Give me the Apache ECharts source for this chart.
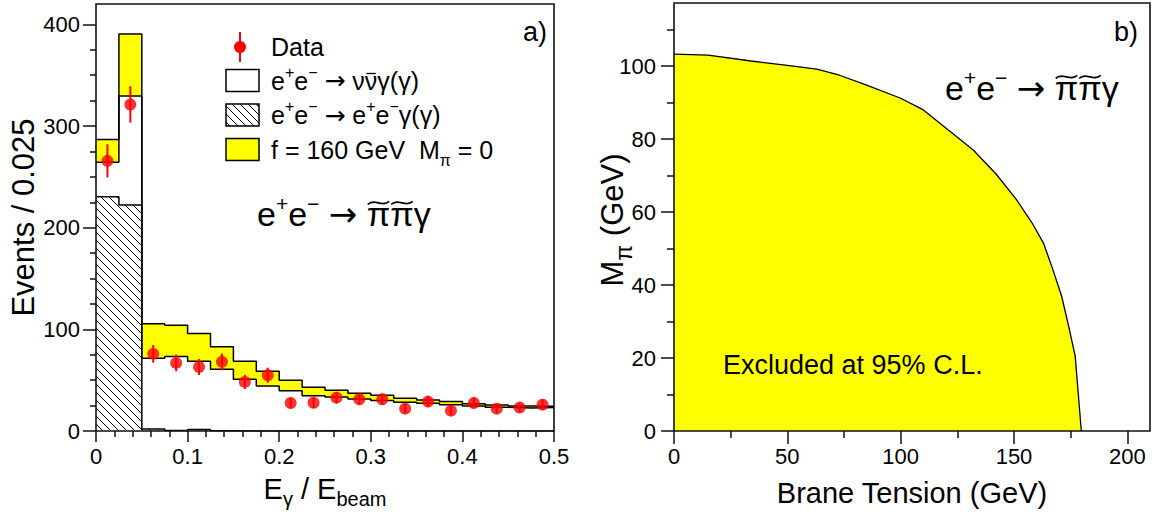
<!DOCTYPE html>
<html>
<head>
<meta charset="utf-8">
<script src="https://cdn.jsdelivr.net/npm/echarts@6/dist/echarts.min.js"></script>
<style>
  html, body { margin: 0; padding: 0; background: #ffffff; }
  #chart { width: 1160px; height: 514px; }
</style>
</head>
<body>
<div id="chart"></div>
<script>
// ---- a) photon energy spectrum, bins of 0.025 in E_gamma / E_beam ----
const BIN_W = 0.025;
const binEdges = [0, 0.025, 0.05, 0.075, 0.1, 0.125, 0.15, 0.175, 0.2, 0.225,
                  0.25, 0.275, 0.3, 0.325, 0.35, 0.375, 0.4, 0.425, 0.45, 0.475];
const binUpper = 0.5;

// Standard Model + pi~ pi~ gamma signal (f = 160 GeV, M_pi = 0), stacked total
const signalPlusSM = [286.7, 390.5, 105.4, 104.1, 95.9, 82.8, 68.6, 58.8, 49.9, 43.0,
                      40.1, 37.1, 35.1, 32.2, 30.5, 28.9, 26.9, 25.6, 24.6, 24.3];
// Standard Model total: nu nubar gamma(gamma) stacked on e+ e- gamma(gamma)
const smTotal = [264.3, 329.4, 71.6, 73.2, 68.6, 60.8, 50.9, 44.3, 39.7, 34.6,
                 33.5, 31.5, 29.9, 28.3, 27.3, 25.9, 24.6, 23.3, 22.7, 23.0];
// e+ e- -> e+ e- gamma(gamma) component
const eeGamma = [230.5, 222.4, 2.0, 0.5, 1.5, 0.3, 0, 0, 0, 0,
                 0, 0, 0, 0, 0, 0, 0, 0, 0, 0];
// Observed events and their statistical errors
const dataCounts = [265.7, 321.2, 75.9, 67.0, 63.0, 68.0, 48.3, 54.9, 27.6, 27.8,
                    32.8, 31.2, 31.2, 22.0, 28.9, 20.0, 27.6, 22.0, 23.0, 25.9];
const dataErrors = [16.3, 17.9, 8.7, 8.2, 7.9, 8.2, 6.9, 7.4, 5.3, 5.3,
                    5.7, 5.6, 5.6, 4.7, 5.4, 4.5, 5.3, 4.7, 4.8, 5.1];

// ---- b) 95% C.L. excluded region in the (brane tension, M_pi) plane ----
const tensionGeV   = [0, 15, 34, 50, 63, 73, 85, 100, 110, 122, 132, 142, 151, 158, 163, 167, 171, 174, 177, 179.7];
const massLimitGeV = [103.3, 103, 101.4, 100.2, 99.2, 97.5, 94.8, 91.2, 88, 82, 77, 70.5, 63.5, 57, 51.5, 44.5, 37, 29, 20.5, 0];

// ---- tick positions ----
const leftXTicks  = [0, 0.1, 0.2, 0.3, 0.4, 0.5];
const leftXMinor  = [0.02, 0.04, 0.06, 0.08, 0.12, 0.14, 0.16, 0.18, 0.22, 0.24, 0.26, 0.28,
                     0.32, 0.34, 0.36, 0.38, 0.42, 0.44, 0.46, 0.48];
const leftYTicks  = [0, 100, 200, 300, 400];
const leftYMinor  = [25, 50, 75, 125, 150, 175, 225, 250, 275, 325, 350, 375];
const rightXTicks = [0, 50, 100, 150, 200];
const rightXMinor = [25, 75, 125, 175];
const rightYTicks = [0, 20, 40, 60, 80, 100];
const rightYMinor = [10, 30, 50, 70, 90, 110];

const FONT = '"Liberation Sans", Arial, Helvetica, sans-serif';
const ARROW_FONT = '"DejaVu Sans", sans-serif';
const INK = '#111111';

// Histogram outline: one point per lower bin edge plus the closing upper edge
function stepData(vals) {
  const d = binEdges.map((x, i) => [x, vals[i]]);
  d.push([binUpper, vals[vals.length - 1]]);
  return d;
}

// Diagonal hatch tile for the e+e- gamma(gamma) histogram
function hatchTile() {
  const c = document.createElement('canvas');
  c.width = 8; c.height = 8;
  const g = c.getContext('2d');
  g.fillStyle = '#ffffff';
  g.fillRect(0, 0, 8, 8);
  g.strokeStyle = '#000000';
  g.lineWidth = 1;
  g.beginPath();
  g.moveTo(-1, -1); g.lineTo(9, 9);
  g.moveTo(-1, 7); g.lineTo(1, 9);
  g.moveTo(7, -1); g.lineTo(9, 1);
  g.stroke();
  return c;
}
const hatch = { image: hatchTile(), repeat: 'repeat', imageWidth: 8, imageHeight: 8 };

// Small physics-notation typesetter: pieces laid out left to right on a baseline,
// with superscripts and subscripts, and tilde / bar accents drawn as strokes.
const measureCtx = document.createElement('canvas').getContext('2d');
function textWidth(t, size, family) {
  measureCtx.font = size + 'px ' + family;
  return measureCtx.measureText(t).width;
}
function pieceSize(p, size) {
  const small = p.k === 'sup' || p.k === 'sub';
  return small ? Math.round(size * (p.s || 0.62)) : size;
}
function formulaWidth(size, parts) {
  return parts.reduce((acc, p) => acc + textWidth(p.t, pieceSize(p, size), p.f || FONT), 0);
}
function formula(x0, baseline, size, parts, subDrop) {
  const drop = subDrop || 0.3;
  const els = [];
  let x = x0;
  parts.forEach(p => {
    const s = pieceSize(p, size);
    const fam = p.f || FONT;
    const w = textWidth(p.t, s, fam);
    let base = baseline;
    if (p.k === 'sup') base = baseline - size * 0.46;
    if (p.k === 'sub') base = baseline + size * drop;
    els.push({ type: 'text', z: 20, x: x, y: base - 0.35 * s,
      style: { text: p.t, fontFamily: fam, fontSize: s, fill: '#000', verticalAlign: 'middle' } });
    if (p.a === 'tilde') {
      const yc = base - 0.68 * s, xa = x + 0.04 * w, xb = x + 0.96 * w, L = xb - xa;
      els.push({ type: 'bezierCurve', z: 20,
        shape: { x1: xa, y1: yc + 1.5, cpx1: xa + 0.35 * L, cpy1: yc - 5, cpx2: xa + 0.65 * L, cpy2: yc + 5, x2: xb, y2: yc - 1.5 },
        style: { stroke: '#000', lineWidth: 1.6, fill: null } });
    }
    if (p.a === 'bar') {
      const yb = base - 0.64 * s;
      els.push({ type: 'line', z: 20, shape: { x1: x + 0.12 * w, y1: yb, x2: x + 0.88 * w, y2: yb },
        style: { stroke: '#000', lineWidth: 1.3 } });
    }
    x += w;
  });
  return els;
}
const arrow = [{ t: ' ' }, { t: '→', f: ARROW_FONT }, { t: ' ' }];
const eplusEminus = [{ t: 'e' }, { t: '+', k: 'sup' }, { t: 'e' }, { t: '−', k: 'sup' }];
const pipiGamma = [{ t: 'π', a: 'tilde' }, { t: 'π', a: 'tilde' }, { t: 'γ' }];

// Axis titles carrying subscripts
const xTitleLeft = [{ t: 'E' }, { t: 'γ', k: 'sub', s: 0.68 }, { t: ' / E' }, { t: 'beam', k: 'sub', s: 0.68 }];
const yTitleRight = [{ t: 'M' }, { t: 'π', k: 'sub', s: 0.75 }, { t: ' (GeV)' }];
const TITLE_SIZE = 29;
const Y_TITLE_SIZE = 31;

const tickStyle = { color: INK, width: 1.5 };
const labelStyle = { color: '#000', fontFamily: FONT, fontSize: 22 };

function majorAxis(extra) {
  return Object.assign({
    type: 'value',
    axisLine: { show: false },
    splitLine: { show: false },
    z: 6
  }, extra);
}
function minorAxis(extra) {
  return Object.assign({
    type: 'value',
    axisLine: { show: false },
    splitLine: { show: false },
    axisLabel: { show: false },
    z: 6
  }, extra);
}

const xTitleW = formulaWidth(TITLE_SIZE, xTitleLeft);
const yTitleW = formulaWidth(Y_TITLE_SIZE, yTitleRight);

const option = {
  animation: false,
  backgroundColor: '#ffffff',
  grid: [
    { left: 96, top: 4, width: 458, height: 427, show: true, borderColor: INK, borderWidth: 1.6,
      backgroundColor: 'rgba(0,0,0,0)', z: 5 },
    { left: 674, top: 3, width: 476, height: 428, show: true, borderColor: INK, borderWidth: 1.6,
      backgroundColor: 'rgba(0,0,0,0)', z: 5 }
  ],
  xAxis: [
    majorAxis({
      gridIndex: 0, position: 'bottom', min: 0, max: 0.5,
      axisTick: { customValues: leftXTicks, length: 11, lineStyle: tickStyle },
      axisLabel: Object.assign({ customValues: leftXTicks, margin: 14 }, labelStyle)
    }),
    minorAxis({
      gridIndex: 0, position: 'bottom', min: 0, max: 0.5,
      axisTick: { customValues: leftXMinor, length: 6, lineStyle: tickStyle }
    }),
    majorAxis({
      gridIndex: 1, position: 'bottom', min: 0, max: 210,
      axisTick: { customValues: rightXTicks, length: 13, lineStyle: tickStyle },
      axisLabel: Object.assign({ customValues: rightXTicks, margin: 14 }, labelStyle),
      name: 'Brane Tension (GeV)',
      nameLocation: 'middle', nameGap: 47,
      nameTextStyle: { fontFamily: FONT, fontSize: TITLE_SIZE, color: '#000' }
    }),
    minorAxis({
      gridIndex: 1, position: 'bottom', min: 0, max: 210,
      axisTick: { customValues: rightXMinor, length: 7, lineStyle: tickStyle }
    })
  ],
  yAxis: [
    majorAxis({
      gridIndex: 0, position: 'left', min: 0, max: 420,
      axisTick: { customValues: leftYTicks, length: 13, lineStyle: tickStyle },
      axisLabel: Object.assign({ customValues: leftYTicks, margin: 16 }, labelStyle),
      name: 'Events / 0.025',
      nameLocation: 'middle', nameRotate: 90, nameGap: 55,
      nameTextStyle: { fontFamily: FONT, fontSize: Y_TITLE_SIZE, color: '#000' }
    }),
    minorAxis({
      gridIndex: 0, position: 'left', min: 0, max: 420,
      axisTick: { customValues: leftYMinor, length: 6, lineStyle: tickStyle }
    }),
    majorAxis({
      gridIndex: 1, position: 'left', min: 0, max: 117.3,
      axisTick: { customValues: rightYTicks, length: 13, lineStyle: tickStyle },
      axisLabel: Object.assign({ customValues: rightYTicks, margin: 18 }, labelStyle)
    }),
    minorAxis({
      gridIndex: 1, position: 'left', min: 0, max: 117.3,
      axisTick: { customValues: rightYMinor, length: 7, lineStyle: tickStyle }
    })
  ],
  series: [
    {
      name: 'f = 160 GeV  M_pi = 0', type: 'line', xAxisIndex: 0, yAxisIndex: 0,
      data: stepData(signalPlusSM), step: 'end', symbol: 'none',
      lineStyle: { color: '#000', width: 1.5 },
      areaStyle: { color: '#ffff00', opacity: 1 }, z: 2
    },
    {
      name: 'e+e- -> nu nubar gamma(gamma)', type: 'line', xAxisIndex: 0, yAxisIndex: 0,
      data: stepData(smTotal), step: 'end', symbol: 'none',
      lineStyle: { color: '#000', width: 1.5 },
      areaStyle: { color: '#ffffff', opacity: 1 }, z: 2
    },
    {
      name: 'e+e- -> e+e- gamma(gamma)', type: 'line', xAxisIndex: 0, yAxisIndex: 0,
      data: stepData(eeGamma), step: 'end', symbol: 'none',
      lineStyle: { color: '#000', width: 1.5 },
      areaStyle: { color: hatch, opacity: 1 }, z: 2
    },
    {
      name: 'Data errors', type: 'custom', xAxisIndex: 0, yAxisIndex: 0,
      data: dataCounts.map((v, i) => [binEdges[i] + BIN_W / 2, v, dataErrors[i]]),
      encode: { x: 0, y: 1 },
      renderItem: function (params, api) {
        const x = api.value(0), y = api.value(1), e = api.value(2);
        const p1 = api.coord([x, y - e]);
        const p2 = api.coord([x, y + e]);
        return {
          type: 'line',
          shape: { x1: p1[0], y1: p1[1], x2: p2[0], y2: p2[1] },
          style: { stroke: '#ff0000', lineWidth: 2 }
        };
      },
      z: 3
    },
    {
      name: 'Data', type: 'scatter', xAxisIndex: 0, yAxisIndex: 0,
      data: dataCounts.map((v, i) => [binEdges[i] + BIN_W / 2, v]),
      symbol: 'circle', symbolSize: 12,
      itemStyle: { color: '#ff0000' }, z: 4
    },
    {
      name: 'Excluded at 95% C.L.', type: 'line', xAxisIndex: 2, yAxisIndex: 2,
      data: tensionGeV.map((t, i) => [t, massLimitGeV[i]]),
      symbol: 'none', smooth: false,
      lineStyle: { color: '#000', width: 1.3 },
      areaStyle: { color: '#ffff00', opacity: 1 }, z: 2
    }
  ],
  graphic: [
    // legend of panel a)
    { type: 'line', z: 20, shape: { x1: 240, y1: 32, x2: 240, y2: 62 }, style: { stroke: '#ff0000', lineWidth: 2 } },
    { type: 'circle', z: 20, shape: { cx: 240, cy: 47, r: 6 }, style: { fill: '#ff0000' } },
    { type: 'rect', z: 20, shape: { x: 226, y: 69.5, width: 33, height: 22 }, style: { fill: '#ffffff', stroke: '#000', lineWidth: 1.5 } },
    { type: 'rect', z: 20, shape: { x: 226, y: 104, width: 33, height: 22 }, style: { fill: hatch, stroke: '#000', lineWidth: 1.5 } },
    { type: 'rect', z: 20, shape: { x: 226, y: 138.5, width: 33, height: 22 }, style: { fill: '#ffff00', stroke: '#000', lineWidth: 1.5 } },
    { type: 'text', z: 20, x: 271, y: 47,
      style: { text: 'Data', fontFamily: FONT, fontSize: 25, fill: '#000', verticalAlign: 'middle' } },
    ...formula(271, 89.5, 25, eplusEminus.concat(arrow,
      [{ t: 'ν' }, { t: 'ν', a: 'bar' }, { t: 'γ(γ)' }])),
    ...formula(271, 124, 25, eplusEminus.concat(arrow, eplusEminus, [{ t: 'γ(γ)' }])),
    ...formula(271, 158.5, 25, [{ t: 'f = 160 GeV  M' }, { t: 'π', k: 'sub' }, { t: ' = 0' }]),
    // process label, panel a)
    ...formula(257, 226, 34, eplusEminus.concat(arrow, pipiGamma)),
    { type: 'text', z: 20, x: 547, y: 32,
      style: { text: 'a)', fontFamily: FONT, fontSize: 27, fill: '#000', align: 'right', verticalAlign: 'middle' } },
    // x title of panel a)
    ...formula(325 - xTitleW / 2, 499, TITLE_SIZE, xTitleLeft, 0.23),
    // panel b) annotations
    ...formula(945, 100, 34, eplusEminus.concat(arrow, pipiGamma)),
    { type: 'text', z: 20, x: 1138, y: 32,
      style: { text: 'b)', fontFamily: FONT, fontSize: 27, fill: '#000', align: 'right', verticalAlign: 'middle' } },
    { type: 'text', z: 20, x: 723, y: 365,
      style: { text: 'Excluded at 95% C.L.', fontFamily: FONT, fontSize: 27, fill: '#000', verticalAlign: 'middle' } },
    // y title of panel b), reading upwards
    { type: 'group', x: 623, y: 220 + yTitleW / 2, rotation: Math.PI / 2,
      children: formula(0, 0, Y_TITLE_SIZE, yTitleRight) }
  ]
};

const chart = echarts.init(document.getElementById('chart'), null, { renderer: 'svg', width: 1160, height: 514 });
chart.setOption(option);
</script>
</body>
</html>
